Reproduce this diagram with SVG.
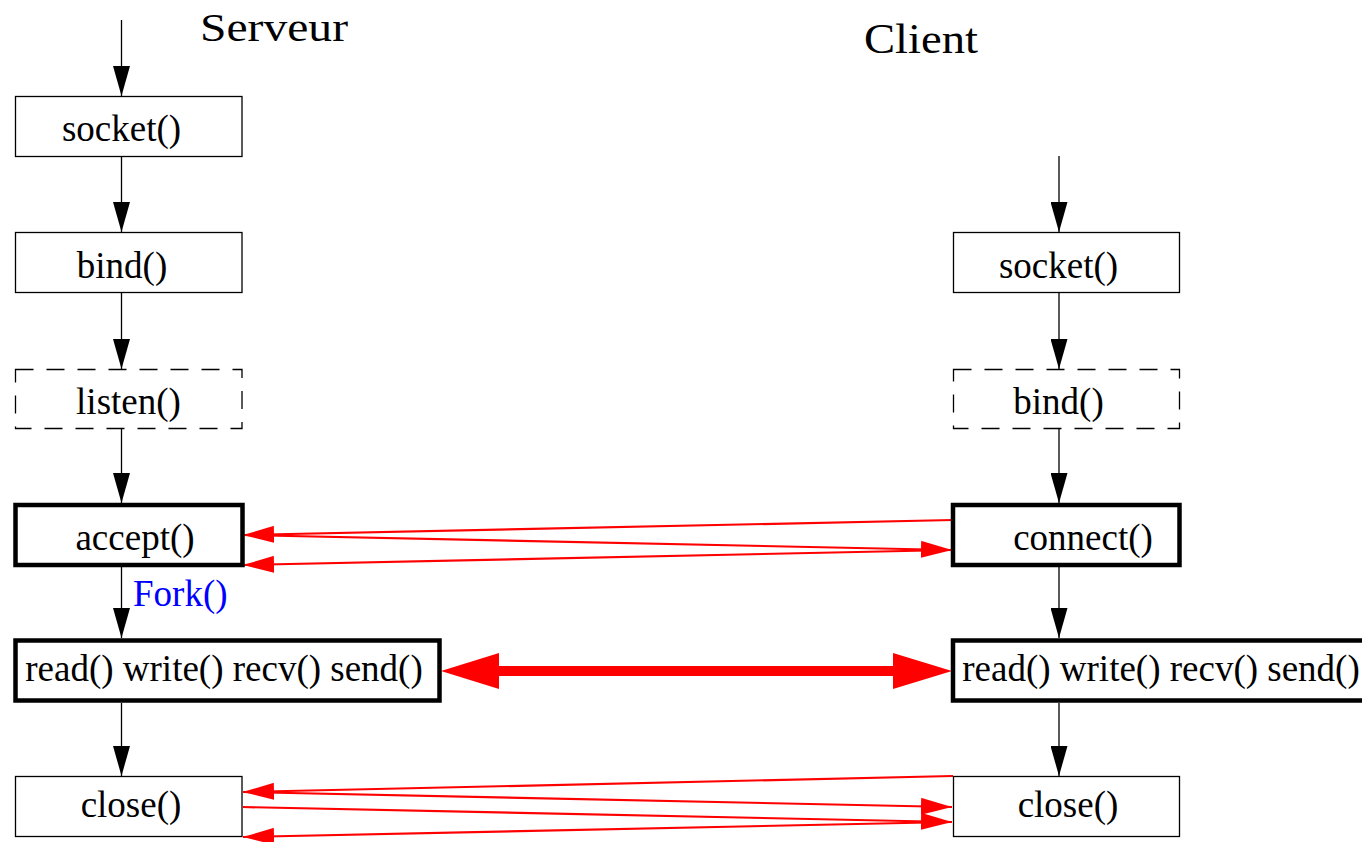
<svg xmlns="http://www.w3.org/2000/svg" width="1362" height="842" viewBox="0 0 1362 842">
  <style>
    .box { fill: #ffffff; stroke: #000000; stroke-width: 1.3; }
    .dash { fill: #ffffff; stroke: #000000; stroke-width: 1.3; stroke-dasharray: 18 13; }
    .thick { fill: #ffffff; stroke: #000000; stroke-width: 4.5; }
    .lbl { font-family: "Liberation Serif", "Times New Roman", serif; font-size: 37px; fill: #000000; text-anchor: middle; }
    .title { font-family: "Liberation Serif", "Times New Roman", serif; fill: #000000; }
    .fork { font-family: "Liberation Serif", "Times New Roman", serif; font-size: 37px; fill: #0000ff; }
    .flow { stroke: #000000; stroke-width: 1.3; fill: none; marker-end: url(#blk); }
    .msg { stroke: #ff0000; stroke-width: 2.2; fill: none; }
    .msga { marker-end: url(#red); }
  </style>
  <defs>
    <marker id="blk" markerUnits="userSpaceOnUse" markerWidth="30" markerHeight="17" refX="30" refY="8.5" orient="auto">
      <path d="M0,0 L30,8.5 L0,17 Z" fill="#000000"/>
    </marker>
    <marker id="red" markerUnits="userSpaceOnUse" markerWidth="31" markerHeight="17" refX="31" refY="8.5" orient="auto">
      <path d="M0,0 L31,8.5 L0,17 Z" fill="#ff0000"/>
    </marker>
  </defs>

  <rect width="1362" height="842" fill="#ffffff"/>

  <g id="titles">
    <text class="title" x="200" y="41" font-size="40" textLength="148" lengthAdjust="spacingAndGlyphs">Serveur</text>
    <text class="title" x="864" y="53" font-size="42" textLength="114" lengthAdjust="spacingAndGlyphs">Client</text>
  </g>

  <g id="connectors">
    <line class="flow" x1="121.5" y1="20" x2="121.5" y2="96"/>
    <line class="flow" x1="121.5" y1="156" x2="121.5" y2="232"/>
    <line class="flow" x1="121.5" y1="293" x2="121.5" y2="369"/>
    <line class="flow" x1="121.5" y1="429" x2="121.5" y2="503"/>
    <line class="flow" x1="121.5" y1="567" x2="121.5" y2="638"/>
    <line class="flow" x1="121.5" y1="703" x2="121.5" y2="776"/>

    <line class="flow" x1="1059" y1="156" x2="1059" y2="232"/>
    <line class="flow" x1="1059" y1="293" x2="1059" y2="369"/>
    <line class="flow" x1="1059" y1="429" x2="1059" y2="503"/>
    <line class="flow" x1="1059" y1="567" x2="1059" y2="638"/>
    <line class="flow" x1="1059" y1="703" x2="1059" y2="776"/>

    <line class="msg msga" x1="953" y1="520" x2="243" y2="535"/>
    <line class="msg msga" x1="243" y1="535" x2="952" y2="550"/>
    <line class="msg msga" x1="952" y1="550" x2="243" y2="565"/>

    <path d="M441,671 L499,653 L499,666 L893,666 L893,653 L952,671 L893,689 L893,676 L499,676 L499,689 Z" fill="#ff0000"/>

    <line class="msg msga" x1="953" y1="776" x2="243" y2="792"/>
    <line class="msg msga" x1="243" y1="792" x2="952" y2="807"/>
    <line class="msg msga" x1="243" y1="807" x2="952" y2="822"/>
    <line class="msg msga" x1="952" y1="822" x2="243" y2="837"/>

    <text class="fork" x="133" y="606">Fork()</text>
  </g>

  <g id="s_socket">
    <rect class="box" x="15.5" y="96.5" width="226.5" height="60"/>
    <text class="lbl" x="121.5" y="141">socket()</text>
  </g>
  <g id="s_bind">
    <rect class="box" x="15.5" y="232.5" width="226.5" height="60"/>
    <text class="lbl" x="122" y="278">bind()</text>
  </g>
  <g id="s_listen">
    <rect class="dash" x="15.5" y="369.5" width="226.5" height="59"/>
    <text class="lbl" x="128.5" y="414">listen()</text>
  </g>
  <g id="s_accept">
    <rect class="thick" x="15.5" y="505" width="227" height="60"/>
    <text class="lbl" x="135" y="550">accept()</text>
  </g>
  <g id="s_io">
    <rect class="thick" x="15.5" y="640.5" width="424" height="60"/>
    <text class="lbl" x="224" y="681">read() write() recv() send()</text>
  </g>
  <g id="s_close">
    <rect class="box" x="15.5" y="776.5" width="226.5" height="60"/>
    <text class="lbl" x="131" y="816.5">close()</text>
  </g>

  <g id="c_socket">
    <rect class="box" x="953.5" y="232.5" width="226" height="60"/>
    <text class="lbl" x="1058.5" y="278">socket()</text>
  </g>
  <g id="c_bind">
    <rect class="dash" x="953.5" y="369.5" width="226" height="59"/>
    <text class="lbl" x="1058.5" y="414">bind()</text>
  </g>
  <g id="c_connect">
    <rect class="thick" x="953" y="505" width="226.5" height="60"/>
    <text class="lbl" x="1083" y="550">connect()</text>
  </g>
  <g id="c_io">
    <rect class="thick" x="953" y="640.5" width="424" height="60"/>
    <text class="lbl" x="1161" y="681">read() write() recv() send()</text>
  </g>
  <g id="c_close">
    <rect class="box" x="953.5" y="776.5" width="226" height="60"/>
    <text class="lbl" x="1068" y="816.5">close()</text>
  </g>
</svg>
